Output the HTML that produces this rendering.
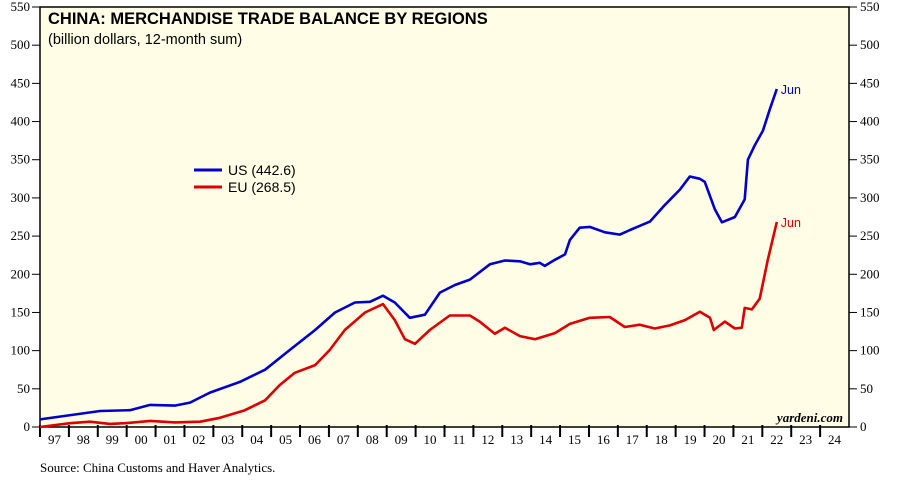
<!DOCTYPE html>
<html><head><meta charset="utf-8"><style>
body{margin:0;background:#fff;width:914px;height:482px;overflow:hidden}
svg{display:block}
</style></head><body>
<svg id="chart" width="914" height="482" xmlns="http://www.w3.org/2000/svg">
<rect x="40" y="7" width="809" height="420" fill="#fffde6" stroke="#000" stroke-width="1.5"/>
<g id="axes"></g>
<g id="series"></g>
<text x="48" y="24" font-family="Liberation Sans, sans-serif" font-weight="bold" font-size="16.5">CHINA: MERCHANDISE TRADE BALANCE BY REGIONS</text>
<text x="48" y="44" font-family="Liberation Sans, sans-serif" font-size="14.5">(billion dollars, 12-month sum)</text>
<line x1="194" y1="170" x2="222" y2="170" stroke="#0000cc" stroke-width="3"/>
<text x="228" y="175" font-family="Liberation Sans, sans-serif" font-size="14">US (442.6)</text>
<line x1="194" y1="187" x2="222" y2="187" stroke="#dd0000" stroke-width="3"/>
<text x="228" y="192" font-family="Liberation Sans, sans-serif" font-size="14">EU (268.5)</text>
<text x="843" y="422" text-anchor="end" font-family="Liberation Serif, serif" font-style="italic" font-weight="bold" font-size="13">yardeni.com</text>
<text x="40" y="472" font-family="Liberation Serif, serif" font-size="13">Source: China Customs and Haver Analytics.</text>
</svg>
<script>
const yTicks=[0,50,100,150,200,250,300,350,400,450,500,550];
const yearLabels=["97","98","99","00","01","02","03","04","05","06","07","08","09","10","11","12","13","14","15","16","17","18","19","20","21","22","23","24"];
const usYears=[1997.0,1999.08,2000.11,2000.81,2001.67,2002.19,2002.88,2003.92,2004.79,2005.65,2006.52,2007.21,2007.90,2008.42,2008.87,2009.28,2009.80,2010.32,2010.84,2011.36,2011.88,2012.57,2013.09,2013.61,2013.96,2014.30,2014.47,2014.82,2015.17,2015.34,2015.68,2016.03,2016.55,2017.07,2017.42,2018.11,2018.63,2019.15,2019.49,2019.84,2020.01,2020.36,2020.60,2021.05,2021.39,2021.50,2021.74,2022.02,2022.26,2022.5];
const usValues=[10,21,22,29,28,32,45,59,75,101,127,150,163,164,172,163,143,147,176,186,193,213,218,217,213,215,211,219,226,245,261,262,255,252,258,269,291,311,328,325,321,285,268,275,298,350,369,388,416,442.6];
const euYears=[1997.0,1998.04,1998.73,1999.42,1999.94,2000.81,2001.67,2002.54,2003.23,2004.09,2004.79,2005.30,2005.82,2006.52,2007.03,2007.55,2008.25,2008.87,2009.28,2009.63,2009.98,2010.49,2011.18,2011.88,2012.22,2012.74,2013.09,2013.61,2014.13,2014.82,2015.34,2016.03,2016.72,2017.24,2017.76,2018.28,2018.80,2019.32,2019.84,2020.19,2020.32,2020.70,2021.05,2021.29,2021.39,2021.64,2021.91,2022.19,2022.5];
const euValues=[0,5,7,4,5,8,6,7,12,22,35,55,71,81,101,127,150,161,140,115,109,127,146,146,138,122,130,119,115,123,135,143,144,131,134,129,133,140,151,143,127,138,129,130,156,154,168,219,268.5];
const NS="http://www.w3.org/2000/svg";
const L=40,R=849,T=7,B=427;
function xS(yr){return L+(yr-1997)*(R-L)/28;}
function yS(v){return B-(v/550)*(B-T);}
const axes=document.getElementById('axes'),ser=document.getElementById('series');
function mk(tag,at,parent){const e=document.createElementNS(NS,tag);for(const k in at)e.setAttribute(k,at[k]);parent.appendChild(e);return e;}
yTicks.forEach(v=>{
  const y=yS(v);
  const t1=mk('line',{x1:L-8,x2:L,y1:y,y2:y,stroke:'#000','stroke-width':1},axes);
  
  
  const t2=mk('line',{x1:R,x2:R+8,y1:y,y2:y,stroke:'#000','stroke-width':1},axes);
  
  
  const a=mk('text',{x:L-10,y:y+4,'text-anchor':'end','font-family':'Liberation Serif, serif','font-size':13},axes);a.textContent=v;
  
  
  const b=mk('text',{x:R+11,y:y+4,'font-family':'Liberation Serif, serif','font-size':13},axes);b.textContent=v;
  
  
});
yearLabels.forEach((lab,i)=>{
  const x=xS(1997+i);
  const tk=mk('line',{x1:x,x2:x,y1:B-2,y2:B+10,stroke:'#000','stroke-width':2},axes);
  
  
  const t=mk('text',{x:xS(1997+i+0.5),y:B+17,'text-anchor':'middle','font-family':'Liberation Serif, serif','font-size':13},axes);t.textContent=lab;
  
  
});
function line(xs,vs,col,name){
  const d=xs.map((x,i)=>(i?'L':'M')+xS(x).toFixed(1)+','+yS(vs[i]).toFixed(1)).join(' ');
  const p=mk('path',{d:d,fill:'none',stroke:col,'stroke-width':2.6,'stroke-linejoin':'round'},ser);
  
  
  const n=xs.length-1;
  const t=mk('text',{x:xS(xs[n])+4,y:yS(vs[n])+5,fill:col,'font-family':'Liberation Sans, sans-serif','font-size':12.5},ser);t.textContent='Jun';
  
  
}
line(usYears,usValues,'#0000cc','us-line');
line(euYears,euValues,'#dd0000','eu-line');
</script>
</body></html>
